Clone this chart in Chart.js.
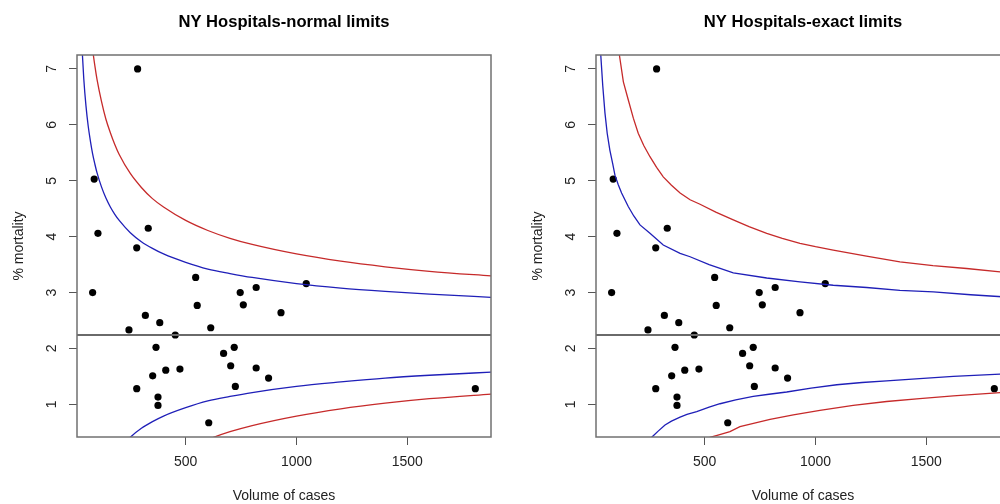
<!DOCTYPE html>
<html lang="en">
<head>
<meta charset="UTF-8">
<title>NY Hospitals funnel plots</title>
<script src="https://cdn.jsdelivr.net/npm/chart.js"></script>
<style>
  html, body { margin: 0; padding: 0; background: #fff; overflow: hidden; }
  body { width: 1000px; height: 504px; position: relative; }
  .panel { position: absolute; top: 0; width: 519px; height: 504px; }
  #leftPanel { left: 0; }
  #rightPanel { left: 519px; }
</style>
</head>
<body>
<div class="panel" id="leftPanel"><canvas id="normalChart"></canvas></div>
<div class="panel" id="rightPanel"><canvas id="exactChart"></canvas></div>

<script>
// hospitals: volume of cases and % mortality
const volume = [283, 87, 104, 331, 279, 80, 545, 1044, 818, 746, 552, 760, 318, 383, 930, 244, 613,
                453, 366, 671, 719, 703, 410, 474, 351, 818, 874, 279, 724, 375, 375, 604, 1807];
const mortality = [7.0, 5.03, 4.06, 4.15, 3.80, 3.0, 3.27, 3.16, 3.09, 3.0, 2.77, 2.78, 2.59, 2.46, 2.64, 2.33, 2.37,
                   2.24, 2.02, 1.91, 2.02, 1.69, 1.61, 1.63, 1.51, 1.65, 1.47, 1.28, 1.32, 1.13, 0.98, 0.67, 1.28];

// overall rate (horizontal line)
const rateSpan = [-200, 2200];
const overallRate = [2.24, 2.24];

// normal limits (left panel)
const nUp95X = [30, 40, 50, 60, 70, 80, 90, 100, 120, 140, 160, 180, 200, 250, 300, 350, 400, 500, 600, 700, 800, 1000, 1200, 1400, 1600, 1900];
const nUp95Y = [7.54, 6.83, 6.34, 5.98, 5.71, 5.48, 5.30, 5.14, 4.89, 4.69, 4.53, 4.40, 4.29, 4.07, 3.91, 3.79, 3.69, 3.54, 3.42, 3.34, 3.27, 3.16, 3.08, 3.02, 2.97, 2.91];
const nUp998X = [70, 80, 90, 100, 120, 140, 160, 180, 200, 250, 300, 350, 400, 500, 600, 700, 800, 1000, 1200, 1400, 1600, 1900];
const nUp998Y = [7.71, 7.35, 7.06, 6.81, 6.42, 6.10, 5.86, 5.65, 5.47, 5.13, 4.88, 4.68, 4.53, 4.29, 4.11, 3.97, 3.86, 3.69, 3.56, 3.46, 3.38, 3.29];
const nLo95X = [200, 250, 300, 350, 400, 500, 600, 700, 800, 1000, 1200, 1400, 1600, 1900];
const nLo95Y = [0.19, 0.41, 0.57, 0.69, 0.79, 0.94, 1.06, 1.14, 1.21, 1.32, 1.40, 1.47, 1.52, 1.58];
const nLo998X = [400, 500, 600, 700, 800, 1000, 1200, 1400, 1600, 1900];
const nLo998Y = [-0.05, 0.20, 0.37, 0.51, 0.62, 0.79, 0.92, 1.02, 1.10, 1.19];

// exact limits (right panel)
const eUp95X = [25, 31, 40, 50, 60, 72, 85, 95, 110, 125, 155, 180, 208, 253, 313, 389, 434, 520, 629, 780, 930, 1080, 1231, 1381, 1532, 1700, 1900];
const eUp95Y = [8.0, 7.25, 6.7, 6.21, 5.85, 5.55, 5.3, 5.10, 4.93, 4.78, 4.54, 4.37, 4.21, 4.06, 3.85, 3.70, 3.64, 3.50, 3.35, 3.26, 3.19, 3.13, 3.09, 3.04, 3.01, 2.96, 2.91];
const eUp998X = [100, 115, 133, 155, 178, 200, 225, 253, 283, 313, 350, 389, 434, 479, 550, 629, 700, 780, 850, 930, 1000, 1080, 1230, 1381, 1530, 1682, 1833, 1900];
const eUp998Y = [7.6, 7.25, 6.77, 6.45, 6.12, 5.85, 5.63, 5.43, 5.24, 5.07, 4.92, 4.78, 4.66, 4.58, 4.44, 4.30, 4.18, 4.06, 3.97, 3.88, 3.82, 3.76, 3.65, 3.55, 3.48, 3.43, 3.37, 3.35];
const eLo95X = [230, 261, 290, 321, 350, 389, 420, 464, 520, 569, 640, 719, 790, 870, 980, 1096, 1210, 1321, 1470, 1622, 1833, 1900];
const eLo95Y = [0.2, 0.41, 0.52, 0.63, 0.70, 0.77, 0.82, 0.87, 0.95, 1.01, 1.08, 1.14, 1.18, 1.22, 1.29, 1.35, 1.39, 1.42, 1.46, 1.50, 1.54, 1.55];
const eLo998X = [490, 524, 560, 614, 659, 720, 795, 900, 1020, 1170, 1321, 1470, 1622, 1833, 1900];
const eLo998Y = [0.3, 0.41, 0.45, 0.51, 0.60, 0.66, 0.73, 0.81, 0.89, 0.98, 1.05, 1.10, 1.15, 1.21, 1.22];

// axes
const xTicks = [500, 1000, 1500];
const yTicks = [1, 2, 3, 4, 5, 6, 7];
const xRange = [9.5, 1877.7];
const yRange = [0.415, 7.25];

const FONT = '"Liberation Sans", Arial, sans-serif';
const BLUE = '#1f1fb8';
const RED = '#c62a2a';

function pairs(xs, ys) {
    return xs.map((x, i) => ({ x: x, y: ys[i] }));
}

// box, title, axis titles and rotated y labels drawn R-style
const rFrame = {
    id: 'rFrame',
    afterDraw(chart, args, opts) {
        const ctx = chart.ctx;
        const a = chart.chartArea;
        const cx = (a.left + a.right) / 2;
        ctx.save();
        ctx.strokeStyle = '#707070';
        ctx.lineWidth = 1.5;
        ctx.strokeRect(a.left, a.top, a.right - a.left, a.bottom - a.top);

        ctx.fillStyle = '#000';
        ctx.font = 'bold 16.6px ' + FONT;
        ctx.textAlign = 'center';
        ctx.textBaseline = 'alphabetic';
        ctx.fillText(opts.title, cx, 27);

        ctx.fillStyle = '#222';
        ctx.font = '14px ' + FONT;
        ctx.textBaseline = 'middle';
        ctx.fillText('Volume of cases', cx, 496);

        const ys = chart.scales.y;
        yTicks.forEach(v => {
            ctx.save();
            ctx.translate(52, ys.getPixelForValue(v));
            ctx.rotate(-Math.PI / 2);
            ctx.fillText(String(v), 0, 0);
            ctx.restore();
        });

        ctx.translate(19, (a.top + a.bottom) / 2);
        ctx.rotate(-Math.PI / 2);
        ctx.fillText('% mortality', 0, 0);
        ctx.restore();
    }
};

function curve(xs, ys, color, smooth) {
    return {
        type: 'line',
        data: pairs(xs, ys),
        borderColor: color,
        borderWidth: 1.3,
        pointRadius: 0,
        fill: false,
        cubicInterpolationMode: smooth ? 'monotone' : 'default',
        tension: 0
    };
}

function makePanel(canvasId, title, limits, smooth) {
    new Chart(document.getElementById(canvasId), {
        type: 'scatter',
        data: {
            datasets: [
                curve(limits[0][0], limits[0][1], BLUE, smooth),
                curve(limits[1][0], limits[1][1], RED, smooth),
                curve(limits[2][0], limits[2][1], BLUE, smooth),
                curve(limits[3][0], limits[3][1], RED, smooth),
                {
                    type: 'line',
                    data: pairs(rateSpan, overallRate),
                    borderColor: '#6a6a6a',
                    borderWidth: 2,
                    pointRadius: 0
                },
                {
                    data: pairs(volume, mortality),
                    backgroundColor: '#000',
                    borderColor: '#000',
                    borderWidth: 0,
                    pointRadius: 3.6,
                    clip: false
                }
            ]
        },
        options: {
            responsive: true,
            maintainAspectRatio: false,
            animation: false,
            layout: { padding: { left: 0, right: 28, top: 55, bottom: 0 } },
            plugins: {
                legend: { display: false },
                tooltip: { enabled: false },
                rFrame: { title: title }
            },
            scales: {
                x: {
                    type: 'linear',
                    min: xRange[0],
                    max: xRange[1],
                    afterBuildTicks: s => { s.ticks = xTicks.map(v => ({ value: v })); },
                    afterFit: s => { s.height = 67; },
                    grid: { drawOnChartArea: false, drawTicks: true, tickLength: 8, tickColor: '#555', color: '#555' },
                    border: { display: false },
                    ticks: {
                        padding: 9,
                        maxRotation: 0,
                        color: '#222',
                        font: { family: FONT, size: 14 },
                        callback: v => String(v)
                    }
                },
                y: {
                    type: 'linear',
                    min: yRange[0],
                    max: yRange[1],
                    afterBuildTicks: s => { s.ticks = yTicks.map(v => ({ value: v })); },
                    afterFit: s => { s.width = 77; },
                    grid: { drawOnChartArea: false, drawTicks: true, tickLength: 8, tickColor: '#555', color: '#555' },
                    border: { display: false },
                    ticks: { display: false }
                }
            }
        },
        plugins: [rFrame]
    });
}

makePanel('normalChart', 'NY Hospitals-normal limits',
    [[nUp95X, nUp95Y], [nUp998X, nUp998Y], [nLo95X, nLo95Y], [nLo998X, nLo998Y]], true);
makePanel('exactChart', 'NY Hospitals-exact limits',
    [[eUp95X, eUp95Y], [eUp998X, eUp998Y], [eLo95X, eLo95Y], [eLo998X, eLo998Y]], false);
</script>
</body>
</html>
